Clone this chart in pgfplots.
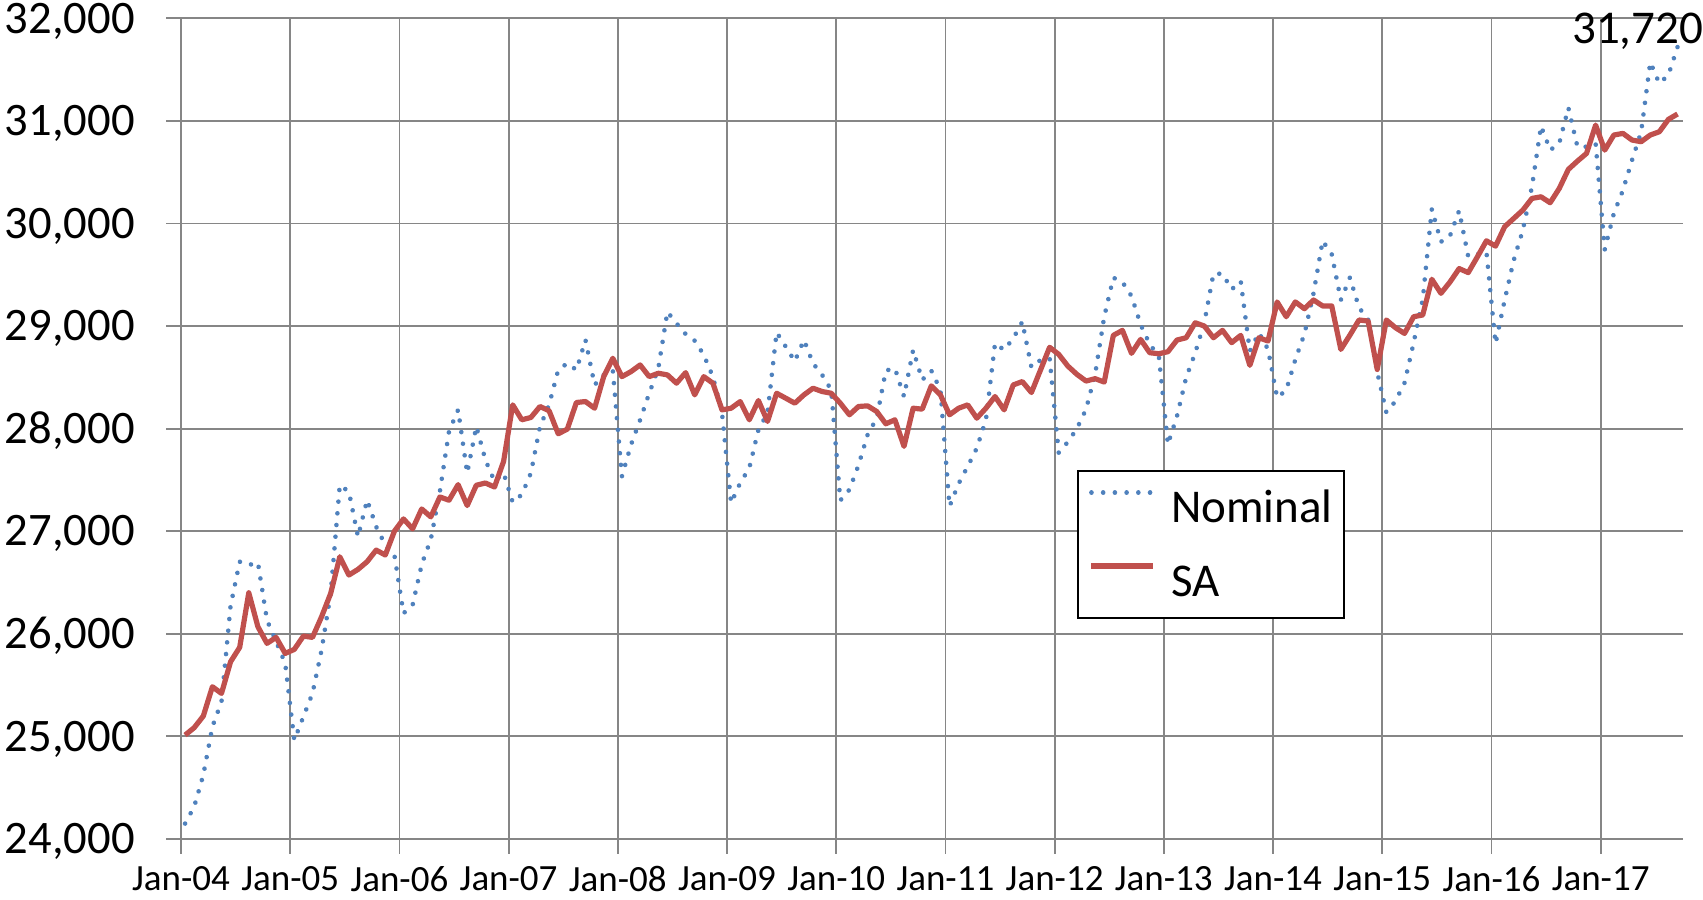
\documentclass[border=0pt]{standalone}
\usepackage{pgfplots}
\pgfplotsset{compat=1.18}
\usepackage{pgfplotstable}
\usepackage{fontspec}
\setmainfont{Carlito}
\definecolor{nomblue}{RGB}{79,129,189}
\definecolor{sared}{RGB}{192,80,77}
\definecolor{gridgray}{RGB}{134,134,134}

\pgfplotstableread{
m nom sa
0 24150 25013
1 24315 25085
2 24623 25198
3 25094 25484
4 25338 25419
5 26274 25728
6 26703 25868
7 26670 26400
8 26696 26069
9 26134 25907
10 25923 25965
11 25712 25809
12 24964 25848
13 25192 25978
14 25420 25965
15 25842 26167
16 26394 26394
17 27450 26751
18 27385 26573
19 26946 26628
20 27304 26703
21 27044 26816
22 26865 26768
23 26768 27000
24 26200 27120
25 26280 27023
26 26676 27217
27 26919 27140
28 27390 27334
29 27973 27302
30 28183 27454
31 27567 27250
32 28021 27448
33 27697 27470
34 27487 27431
35 27568 27681
36 27282 28232
37 27357 28086
38 27568 28109
39 28021 28216
40 28232 28174
41 28572 27950
42 28637 27995
43 28572 28255
44 28864 28264
45 28426 28199
46 28524 28507
47 28572 28686
48 27535 28507
49 27843 28556
50 28086 28621
51 28345 28507
52 28588 28540
53 29139 28524
54 29026 28443
55 28922 28546
56 28857 28329
57 28718 28507
58 28507 28443
59 28151 28183
60 27276 28199
61 27471 28264
62 27616 28086
63 27989 28274
64 28151 28070
65 28938 28345
66 28800 28297
67 28656 28248
68 28864 28329
69 28637 28394
70 28524 28362
71 28378 28345
72 27300 28248
73 27405 28135
74 27645 28216
75 27940 28222
76 28102 28167
77 28566 28047
78 28588 28086
79 28313 27827
80 28767 28199
81 28475 28190
82 28566 28417
83 28378 28329
84 27243 28135
85 27464 28199
86 27632 28232
87 27811 28102
88 28086 28199
89 28832 28313
90 28767 28183
91 28880 28426
92 29042 28459
93 28598 28352
94 28669 28572
95 28686 28793
96 27766 28724
97 27870 28610
98 28000 28529
99 28188 28464
100 28529 28487
101 29091 28454
102 29471 28909
103 29429 28958
104 29292 28734
105 29016 28870
106 28821 28740
107 28708 28730
108 27847 28750
109 28123 28864
110 28497 28886
111 28740 29032
112 29032 29000
113 29510 28886
114 29510 28958
115 29357 28838
116 29438 28909
117 28756 28617
118 28935 28886
119 28773 28854
120 28303 29235
121 28375 29091
122 28674 29235
123 28922 29169
124 29319 29254
125 29831 29196
126 29700 29196
127 29254 28772
128 29472 28912
129 29179 29059
130 29065 29049
131 28550 28577
132 28160 29059
133 28267 28984
134 28446 28928
135 28837 29091
136 29261 29108
137 30140 29456
138 29821 29319
139 29879 29430
140 30124 29560
141 29678 29521
142 29700 29674
143 29723 29831
144 28829 29779
145 29252 29968
146 29642 30049
147 29935 30130
148 30358 30244
149 30950 30260
150 30715 30202
151 30780 30341
152 31128 30527
153 30748 30608
154 30748 30683
155 30780 30959
156 29746 30715
157 30098 30862
158 30325 30878
159 30618 30813
160 30891 30797
161 31571 30862
162 31366 30894
163 31447 31015
164 31720 31067
}\datatable

\begin{document}
\begin{tikzpicture}
\begin{axis}[
  scale only axis,
  width=751pt, height=410.35pt,
  xmin=0, xmax=165.05,
  ymin=24000, ymax=32000,
  scaled y ticks=false, scaled x ticks=false,
  axis x line*=bottom, axis y line*=left,
  axis line style={gridgray, line width=0.9pt, -},
  xtick={0,12,...,156},
  xticklabels={Jan-04,Jan-05,Jan-06,Jan-07,Jan-08,Jan-09,Jan-10,Jan-11,Jan-12,Jan-13,Jan-14,Jan-15,Jan-16,Jan-17},
  ytick={24000,25000,...,32000},
  yticklabels={{24,000},{25,000},{26,000},{27,000},{28,000},{29,000},{30,000},{31,000},{32,000}},
  xmajorgrids, ymajorgrids,
  grid style={gridgray, line width=0.9pt},
  tick align=outside,
  major tick length=7.5pt,
  tick style={gridgray, line width=0.9pt},
  xticklabel style={font=\fontsize{18.5}{22}\selectfont, anchor=north, inner sep=0pt, yshift=-6pt},
  yticklabel style={font=\fontsize{23.3}{28}\selectfont, anchor=base east, inner sep=0pt, xshift=-15.5pt, yshift=-7.36pt},
  clip=false,
  legend style={at={(0.5963,0.4496)}, anchor=north west, draw=black, line width=1pt,
    fill=white, inner xsep=5.6pt, inner ysep=0pt, row sep=0pt,
    font=\fontsize{23.5}{28}\selectfont,
    nodes={inner sep=0pt, text height=25.85pt, text depth=10.8pt},
    column sep=7.5pt},
  legend cell align=left,
  legend image code/.code={\draw[#1] (0pt,7.5pt) -- (31pt,7.5pt);},
]
\addplot[nomblue, line width=2.3pt, line cap=round, dash pattern=on 0.01pt off 5.85pt]
  table[x expr=\thisrow{m}+0.45, y=nom] {\datatable};
\addlegendentry{Nominal}
\addplot[sared, line width=2.6pt, line join=round]
  table[x expr=\thisrow{m}+0.45, y=sa] {\datatable};
\addlegendentry{SA}
\node[anchor=base east, inner sep=0pt, font=\fontsize{23.5}{28}\selectfont, xshift=13pt, yshift=1.8pt]
  at (axis cs:164.45,31720) {31,720};
\coordinate (bl) at (rel axis cs:0,0);
\coordinate (tr) at (rel axis cs:1,1);
\end{axis}
\pgfresetboundingbox
\path ([xshift=-90.5pt,yshift=-30.5pt]bl) rectangle ([xshift=10pt,yshift=9.15pt]tr);
\end{tikzpicture}
\end{document}
